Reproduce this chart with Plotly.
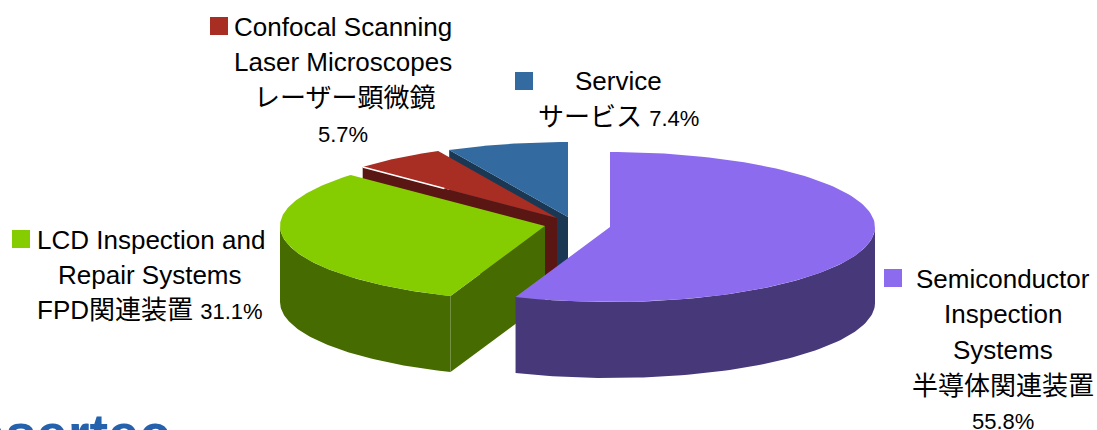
import numpy as np
import plotly.graph_objects as go

# Data
categories = ["Semiconductor Inspection Systems", "LCD Inspection and Repair Systems",
              "Confocal Scanning Laser Microscopes", "Service"]
values = [55.8, 31.1, 5.7, 7.4]

# Style
top_colors = ["#8C6BEE", "#85CC00", "#A82D22", "#336A9F"]
side_colors = ["#47387A", "#466B00", "#5A1612", "#1A3854"]
centers = [(610, 227), (545, 226), (557, 218), (568, 217)]
RX, RY, DEPTH = 265, 75, 76

NUM = '<span style="font-size:22px">%s</span>'
label_lines = ["Semiconductor", "Inspection", "Systems", "半導体関連装置", NUM % "55.8%",
               "LCD Inspection and", "Repair Systems", "FPD関連装置 " + NUM % "31.1%",
               "Confocal Scanning", "Laser Microscopes", "レーザー顕微鏡", NUM % "5.7%",
               "Service", "サービス " + NUM % "7.4%"]
label_x = [1003, 1003, 1003, 1003, 1003, 151, 150, 150, 343, 343, 344, 343, 618, 618]
label_y = [279, 314, 350, 386, 421, 240, 275, 310, 27, 62, 98, 134, 81, 117]
legend_x = [893, 21, 219, 524]
legend_y = [278, 239, 26, 81]
legend_colors = top_colors


def rim(c, deg):
    t = np.radians(deg)
    return c[0] + RX * np.sin(t), c[1] - RY * np.cos(t)


def poly(xs, ys, color):
    return go.Scatter(x=list(xs), y=list(ys), mode="lines", fill="toself", fillcolor=color,
                      line=dict(width=0, color=color), hoverinfo="skip", showlegend=False)


edges = np.cumsum([0] + values) / 100 * 360
fig = go.Figure()
for i in [3, 2, 1, 0]:
    c = centers[i]
    a0, a1 = edges[i], edges[i + 1]
    # cut face seen from the viewer's side
    if i in (1, 2, 3):
        ex, ey = rim(c, a0)
        fig.add_trace(poly([ex, c[0], c[0], ex], [ey, c[1], c[1] + DEPTH, ey + DEPTH], side_colors[i]))
    # outer wall, front half only
    lo, hi = max(a0, 90), min(a1, 270)
    if hi > lo:
        ts = np.linspace(lo, hi, 80)
        x, y = rim(c, ts)
        fig.add_trace(poly(np.r_[x, x[::-1]], np.r_[y, y[::-1] + DEPTH], side_colors[i]))
    # top surface
    ts = np.linspace(a0, a1, 120)
    x, y = rim(c, ts)
    fig.add_trace(poly(np.r_[c[0], x], np.r_[c[1], y], top_colors[i]))
    if i == 2:
        ex, ey = rim(c, a0)
        fig.add_trace(go.Scatter(x=[ex, ex + 0.42 * (c[0] - ex)], y=[ey, ey + 0.42 * (c[1] - ey)],
                                 mode="lines", line=dict(color="white", width=1.5),
                                 hoverinfo="skip", showlegend=False))

fig.add_trace(go.Scatter(x=legend_x, y=legend_y, mode="markers",
                         marker=dict(symbol="square", size=18, color=legend_colors, line=dict(width=0)),
                         hoverinfo="skip", showlegend=False))

for t, x, y in zip(label_lines, label_x, label_y):
    fig.add_annotation(x=x, y=y, text=t, showarrow=False, xanchor="center", yanchor="middle",
                       font=dict(family="Liberation Sans, Noto Sans CJK JP", size=26, color="black"))

# Logo, cut off by the bottom of the picture
fig.add_annotation(xref="paper", yref="paper", x=172 / 1097, y=0, yshift=-3, text="<b>Lasertec</b>",
                   showarrow=False, xanchor="right", yanchor="middle",
                   font=dict(family="Liberation Sans", size=56, color="#2462AE"))

fig.update_layout(width=1097, height=430, margin=dict(l=0, r=0, t=0, b=0),
                  paper_bgcolor="white", plot_bgcolor="white", showlegend=False,
                  xaxis=dict(range=[0, 1097], visible=False),
                  yaxis=dict(range=[430, 0], visible=False))
fig.write_html("out.html", config={"displayModeBar": False},
               post_script="document.body.style.margin='0';document.body.style.overflow='hidden';")
